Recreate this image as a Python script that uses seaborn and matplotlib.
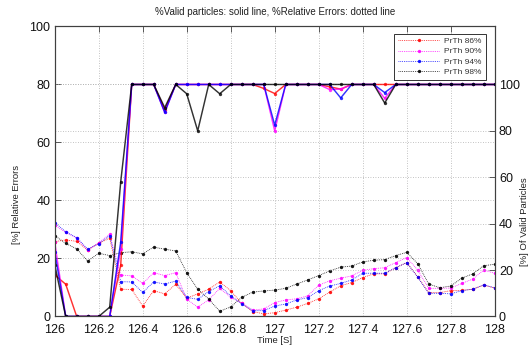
import matplotlib
matplotlib.use('Agg')
import matplotlib.pyplot as plt
from matplotlib.lines import Line2D
import seaborn as sns
import pandas as pd

time_s = [126.00, 126.05, 126.10, 126.15, 126.20, 126.25, 126.30, 126.35, 126.40, 126.45,
          126.50, 126.55, 126.60, 126.65, 126.70, 126.75, 126.80, 126.85, 126.90, 126.95,
          127.00, 127.05, 127.10, 127.15, 127.20, 127.25, 127.30, 127.35, 127.40, 127.45,
          127.50, 127.55, 127.60, 127.65, 127.70, 127.75, 127.80, 127.85, 127.90, 127.95,
          128.00]

series_labels = ['PrTh 86%', 'PrTh 90%', 'PrTh 94%', 'PrTh 98%']
series_colors = ['#ff0000', '#ff00ff', '#0000ff', '#000000']

# relative errors [%] (left axis, dotted)
rel_err_86 = [25.8, 26.4, 25.9, 22.9, 25.2, 27.0, 9.4, 9.3, 3.6, 8.9,
              7.8, 11.1, 6.3, 7.8, 9.4, 11.9, 8.9, 4.5, 1.7, 0.9,
              1.3, 2.2, 3.2, 4.5, 6.1, 8.4, 10.6, 11.7, 13.4, 14.7,
              14.7, 16.8, 18.6, 13.7, 8.2, 8.2, 8.9, 9.0, 9.4, 10.8,
              9.8]
rel_err_90 = [31.4, 29.0, 27.0, 22.8, 25.5, 28.3, 14.3, 14.0, 11.4, 15.1,
              14.1, 15.1, 6.0, 3.2, 5.7, 9.7, 6.6, 4.6, 2.2, 2.6,
              4.8, 5.7, 6.1, 7.1, 10.8, 12.3, 13.2, 14.0, 15.9, 16.5,
              16.8, 18.6, 20.3, 16.0, 9.7, 9.7, 9.8, 11.4, 12.9, 16.0,
              14.9]
rel_err_94 = [32.4, 29.2, 27.2, 23.2, 25.1, 27.9, 12.0, 11.9, 8.3, 11.9,
              11.2, 12.2, 6.6, 5.9, 8.6, 10.6, 7.1, 4.4, 2.0, 2.0,
              3.6, 4.3, 5.7, 6.5, 8.9, 10.5, 11.4, 12.6, 14.9, 14.9,
              14.9, 16.8, 18.6, 13.5, 8.0, 8.0, 7.8, 8.9, 9.4, 10.9,
              9.9]
rel_err_98 = [27.9, 25.2, 23.3, 19.1, 21.8, 21.0, 22.0, 22.3, 21.6, 23.9,
              23.2, 22.6, 15.1, 9.4, 6.0, 1.8, 3.3, 6.6, 8.4, 8.8,
              9.1, 9.7, 11.2, 12.6, 14.1, 15.7, 17.0, 17.4, 18.8, 19.4,
              19.6, 21.0, 22.1, 18.2, 11.2, 9.9, 10.5, 13.2, 14.7, 17.5,
              18.0]

# valid particles [%] (right axis, solid)
valid_86 = [17.9, 13.9, 0, 0, 0, 0, 22, 100, 100, 100,
            89, 100, 100, 100, 100, 100, 100, 100, 100, 98.3,
            96.1, 100, 100, 100, 100, 99, 98, 100, 100, 100,
            100, 100, 100, 100, 100, 100, 100, 100, 100, 100,
            100]
valid_90 = [32, 0, 0, 0, 0, 0, 29, 100, 100, 100,
            88, 100, 100, 100, 100, 100, 100, 100, 100, 100,
            80, 100, 100, 100, 100, 97.8, 98, 100, 100, 100,
            94, 100, 100, 100, 100, 100, 100, 100, 100, 100,
            100]
valid_94 = [27.9, 0, 0, 0, 0, 0, 32, 100, 100, 100,
            88, 100, 100, 100, 100, 100, 100, 100, 100, 100,
            82.5, 100, 100, 100, 100, 100, 94.2, 100, 100, 100,
            96.5, 100, 100, 100, 100, 100, 100, 100, 100, 100,
            100]
valid_98 = [22.3, 0, 0, 0, 0, 4, 58, 100, 100, 100,
            90, 100, 96, 80, 100, 96, 100, 100, 100, 100,
            100, 100, 100, 100, 100, 100, 100, 100, 100, 100,
            92, 100, 100, 100, 100, 100, 100, 100, 100, 100,
            100]

x_ticks = [126, 126.2, 126.4, 126.6, 126.8, 127, 127.2, 127.4, 127.6, 127.8, 128]
x_tick_labels = ['126', '126.2', '126.4', '126.6', '126.8', '127', '127.2', '127.4', '127.6', '127.8', '128']
y_ticks = [0, 20, 40, 60, 80, 100]

rel_errs = [rel_err_86, rel_err_90, rel_err_94, rel_err_98]
valids = [valid_86, valid_90, valid_94, valid_98]

sns.set_theme(style='white')
plt.rcParams['font.family'] = ['Liberation Sans', 'DejaVu Sans']

fig = plt.figure(figsize=(5.31, 3.47), dpi=100)
ax = fig.add_axes([0.103, 0.088, 0.8287, 0.8357])
ax2 = ax.twinx()

for lab, col, re_, va in zip(series_labels, series_colors, rel_errs, valids):
    df = pd.DataFrame({'t': time_s, 're': re_, 'vp': va})
    sns.lineplot(data=df, x='t', y='re', ax=ax, color=col, linestyle=(0, (1, 1.2)),
                 linewidth=0.6, marker='o', markersize=2.4, markeredgewidth=0,
                 alpha=0.9, legend=False)
    sns.lineplot(data=df, x='t', y='vp', ax=ax2, color=col, linestyle='-',
                 linewidth=1.05, marker='o', markersize=2.4, markeredgewidth=0,
                 alpha=0.8, legend=False)

ax.set_xlim(126, 128)
ax.set_ylim(0, 100)
ax2.set_ylim(0, 125)
ax.set_xticks(x_ticks)
ax.set_xticklabels(x_tick_labels)
ax.set_yticks(y_ticks)
ax2.set_yticks(y_ticks)

grid_kw = dict(color='#b0b0b0', linestyle=(0, (1, 2)), linewidth=0.6)
ax.grid(True, axis='both', **grid_kw)
ax2.grid(True, axis='y', **grid_kw)
ax.set_axisbelow(True)
ax2.set_axisbelow(True)

for a in (ax, ax2):
    for s in a.spines.values():
        s.set_color('#404040')
        s.set_linewidth(0.8)

ax.tick_params(axis='both', direction='in', length=4, width=0.6, color='#404040',
               labelsize=9, pad=3, top=True, right=False, labelcolor='#111111')
ax.tick_params(axis='x', pad=5.5)
ax2.tick_params(axis='y', direction='in', length=4, width=0.6, color='#404040',
                labelsize=9, pad=3, labelcolor='#111111')

ax.set_xlabel('')
ax.set_ylabel('')
ax2.set_ylabel('')
ax.set_title('')

fig.text(0.518, 0.966, '%Valid particles: solid line, %Relative Errors: dotted line',
         ha='center', va='center', fontsize=7.0, color='#222222')
fig.text(0.517, 0.006, 'Time [S]', ha='center', va='bottom', fontsize=6.8, color='#222222')
fig.text(0.032, 0.41, '[%] Relative Errors', rotation=90, ha='center', va='center',
         fontsize=6.8, color='#222222')
fig.text(0.988, 0.36, '[%] Of Valid Particles', rotation=90, ha='center', va='center',
         fontsize=6.8, color='#222222')

handles = [Line2D([0], [0], color=c, linestyle=(0, (1, 1.2)), linewidth=0.6,
                  marker='o', markersize=2.4, markeredgewidth=0, alpha=0.9)
           for c in series_colors]
leg = ax2.legend(handles, series_labels, loc='upper right', bbox_to_anchor=(0.989, 0.99),
                 fontsize=6.0, frameon=True, fancybox=False, edgecolor='#333333',
                 framealpha=1, handlelength=5.0, borderpad=0.45, labelspacing=0.3,
                 handletextpad=0.6, markerfirst=True)
leg.get_frame().set_linewidth(0.7)
for txt in leg.get_texts():
    txt.set_color('#333333')

fig.savefig('out.png', dpi=100)
